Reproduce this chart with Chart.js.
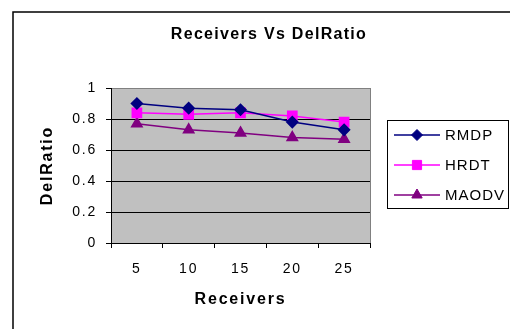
<!DOCTYPE html>
<html>
<head>
<meta charset="utf-8">
<title>Receivers Vs DelRatio</title>
<script src="https://cdn.jsdelivr.net/npm/chart.js@4/dist/chart.umd.min.js"></script>
<style>
  html, body { margin: 0; padding: 0; background: #ffffff; }
  #wrap { width: 510px; height: 329px; }
</style>
</head>
<body>
<div id="wrap"><canvas id="chart" width="510" height="329"></canvas></div>
<script>
// Delivery ratio measured for each receiver count
const receivers = ['5', '10', '15', '20', '25'];
const rmdp  = [0.90, 0.87, 0.86, 0.78, 0.73];
const hrdt  = [0.84, 0.83, 0.84, 0.82, 0.78];
const maodv = [0.77, 0.73, 0.71, 0.68, 0.67];
const yTickValues = [0, 0.2, 0.4, 0.6, 0.8, 1];

const chartTitle = 'Receivers Vs DelRatio';
const xTitle = 'Receivers';
const yTitle = 'DelRatio';
const FONT = "'Liberation Sans', Arial, sans-serif";

// Grey plot background, outer frame and the chart heading
const framePlugin = {
  id: 'frame',
  beforeDraw(chart) {
    const ctx = chart.ctx;
    const a = chart.chartArea;
    ctx.letterSpacing = '1.8px';
    ctx.save();
    ctx.fillStyle = '#ffffff';
    ctx.fillRect(0, 0, chart.width, chart.height);
    ctx.fillStyle = '#c0c0c0';
    ctx.fillRect(a.left, a.top, a.right - a.left, a.bottom - a.top);
    ctx.restore();
  },
  afterDraw(chart) {
    const ctx = chart.ctx;
    const a = chart.chartArea;
    ctx.save();
    // right edge of the plot area
    ctx.strokeStyle = '#808080';
    ctx.lineWidth = 1;
    ctx.beginPath();
    ctx.moveTo(a.right + 0.5, a.top);
    ctx.lineTo(a.right + 0.5, a.bottom);
    ctx.stroke();
    // outer frame
    ctx.strokeStyle = '#000000';
    ctx.lineWidth = 1.5;
    ctx.strokeRect(13, 12, 600, 400);
    // heading
    ctx.letterSpacing = '1.3px';
    ctx.fillStyle = '#000000';
    ctx.font = 'bold 16px ' + FONT;
    ctx.textAlign = 'center';
    ctx.textBaseline = 'middle';
    ctx.fillText(chartTitle, 269, 35);
    ctx.restore();
  }
};

// Boxed legend on the right, built from the datasets
const legendBoxPlugin = {
  id: 'legendBox',
  afterDraw(chart) {
    const ctx = chart.ctx;
    ctx.save();
    ctx.strokeStyle = '#000000';
    ctx.lineWidth = 1;
    ctx.strokeRect(387.5, 120.5, 121, 88);
    chart.data.datasets.forEach((ds, i) => {
      const y = 135 + i * 30;
      ctx.strokeStyle = ds.borderColor;
      ctx.lineWidth = ds.borderWidth;
      ctx.beginPath();
      ctx.moveTo(394, y);
      ctx.lineTo(440, y);
      ctx.stroke();
      ctx.fillStyle = ds.pointBackgroundColor;
      ctx.strokeStyle = ds.pointBorderColor;
      ctx.lineWidth = 1;
      Chart.helpers.drawPoint(ctx, {
        pointStyle: ds.pointStyle,
        radius: ds.pointRadius,
        rotation: 0,
        borderWidth: 1
      }, 417, y);
      ctx.letterSpacing = '1px';
      ctx.fillStyle = '#000000';
      ctx.font = '15px ' + FONT;
      ctx.textAlign = 'left';
      ctx.textBaseline = 'middle';
      ctx.fillText(ds.label, 445, y + 1);
    });
    ctx.restore();
  }
};

function series(label, data, color, style, radius) {
  return {
    label: label,
    data: data,
    borderColor: color,
    backgroundColor: color,
    pointBackgroundColor: color,
    pointBorderColor: color,
    borderWidth: 1.5,
    pointStyle: style,
    pointRadius: radius,
    pointHoverRadius: radius,
    tension: 0
  };
}

new Chart(document.getElementById('chart'), {
  type: 'line',
  data: {
    labels: receivers,
    datasets: [
      series('RMDP', rmdp, '#000080', 'rectRot', 5.5),
      series('HRDT', hrdt, '#ff00ff', 'rect', 6.5),
      series('MAODV', maodv, '#800080', 'triangle', 6)
    ]
  },
  options: {
    responsive: false,
    animation: false,
    events: [],
    layout: { padding: { left: 0, top: 88, right: 140, bottom: 0 } },
    plugins: {
      legend: { display: false },
      title: { display: false },
      tooltip: { enabled: false }
    },
    scales: {
      x: {
        type: 'category',
        offset: true,
        afterFit(scale) { scale.height = 86; },
        grid: {
          offset: true,
          drawOnChartArea: false,
          drawTicks: true,
          tickLength: 5,
          color: '#000000',
          tickColor: '#000000'
        },
        border: { color: '#000000', width: 1 },
        ticks: {
          color: '#000000',
          font: { family: FONT, size: 14 },
          padding: 13,
          maxRotation: 0,
          autoSkip: false
        },
        title: {
          display: true,
          text: xTitle,
          color: '#000000',
          font: { family: FONT, size: 16, weight: 'bold' },
          padding: { top: 0, bottom: 19.4 }
        }
      },
      y: {
        min: 0,
        max: 1,
        afterFit(scale) { scale.width = 111; },
        afterBuildTicks(scale) { scale.ticks = yTickValues.map(v => ({ value: v })); },
        grid: {
          color: (c) => (c.tick && c.tick.value === 1 ? '#808080' : '#000000'),
          tickColor: '#000000',
          lineWidth: 1,
          drawTicks: true,
          tickLength: 5
        },
        border: { color: '#000000', width: 1 },
        ticks: {
          color: '#000000',
          font: { family: FONT, size: 14 },
          padding: 9,
          callback: (v) => String(v)
        },
        title: {
          display: true,
          text: yTitle,
          color: '#000000',
          font: { family: FONT, size: 16, weight: 'bold' },
          padding: { top: 38.4, bottom: 0 }
        }
      }
    }
  },
  plugins: [framePlugin, legendBoxPlugin]
});
</script>
</body>
</html>
